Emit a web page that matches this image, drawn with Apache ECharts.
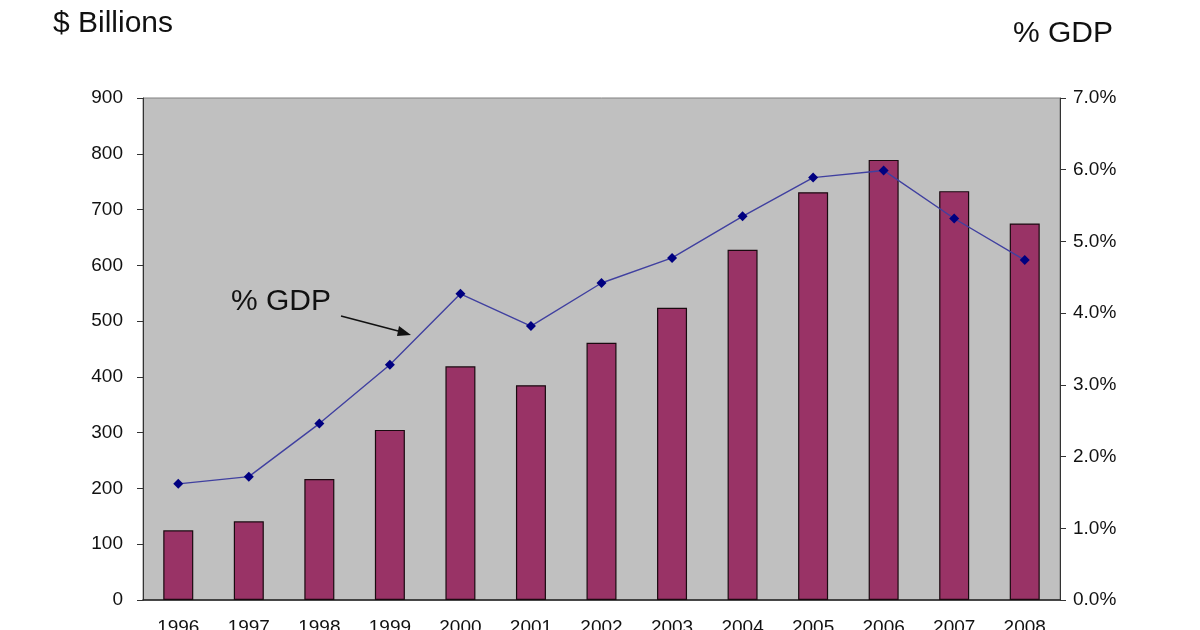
<!DOCTYPE html>
<html>
<head>
<meta charset="utf-8">
<script src="https://cdn.jsdelivr.net/npm/echarts@6/dist/echarts.min.js"></script>
<style>
  html, body { margin: 0; padding: 0; background: #fff; }
  #chart { width: 1200px; height: 630px; }
</style>
</head>
<body>
<div id="chart"></div>
<script>
const years = ["1996", "1997", "1998", "1999", "2000", "2001", "2002", "2003", "2004", "2005", "2006", "2007", "2008"];
const billions = [125, 141, 217, 305, 419, 385, 461, 524, 628, 731, 789, 733, 675];
const pctGdp = [1.62, 1.72, 2.46, 3.28, 4.27, 3.82, 4.42, 4.77, 5.35, 5.89, 5.99, 5.32, 4.74];

const chart = echarts.init(document.getElementById("chart"));
const font = "Liberation Sans, Arial, sans-serif";

const option = {
  animation: false,
  textStyle: { fontFamily: font },
  grid: {
    left: 143,
    right: 140,
    top: 98,
    bottom: 30,
    outerBoundsMode: "none",
    show: true,
    backgroundColor: "#c0c0c0",
    borderColor: "#808080",
    borderWidth: 1
  },
  graphic: [
    {
      type: "text",
      left: 53,
      top: 9,
      style: { text: "$ Billions", font: "30px " + font, fill: "#111" }
    },
    {
      type: "text",
      left: 1013,
      top: 19,
      style: { text: "% GDP", font: "30px " + font, fill: "#111" }
    },
    {
      type: "text",
      left: 231,
      top: 287,
      z: 10,
      style: { text: "% GDP", font: "30px " + font, fill: "#111" }
    },
    {
      type: "line",
      z: 10,
      shape: { x1: 341, y1: 316, x2: 402, y2: 332 },
      style: { stroke: "#111", lineWidth: 1.5 }
    },
    {
      type: "polygon",
      z: 10,
      shape: { points: [[411, 335], [399, 326], [397, 336]] },
      style: { fill: "#111" }
    }
  ],
  xAxis: {
    type: "category",
    data: years,
    axisTick: { show: false },
    axisLine: { lineStyle: { color: "#222", width: 1.5 } },
    axisLabel: { color: "#111", fontSize: 19, margin: 18 }
  },
  yAxis: [
    {
      type: "value",
      min: 0,
      max: 900,
      interval: 100,
      splitLine: { show: false },
      axisLine: { show: true, lineStyle: { color: "#333" } },
      axisTick: { show: true, length: 6, lineStyle: { color: "#333" } },
      axisLabel: { color: "#111", fontSize: 19, margin: 20 }
    },
    {
      type: "value",
      min: 0,
      max: 7,
      interval: 1,
      splitLine: { show: false },
      axisLine: { show: true, lineStyle: { color: "#333" } },
      axisTick: { show: true, length: 6, lineStyle: { color: "#333" } },
      axisLabel: {
        color: "#111",
        fontSize: 19,
        margin: 13,
        formatter: function (v) { return v.toFixed(1) + "%"; }
      }
    }
  ],
  series: [
    {
      name: "$ Billions",
      type: "bar",
      data: billions,
      barWidth: 30,
      itemStyle: { color: "#993366", borderColor: "#1a0a10", borderWidth: 1.2 }
    },
    {
      name: "% GDP",
      type: "line",
      yAxisIndex: 1,
      data: pctGdp,
      symbol: "diamond",
      symbolSize: 10,
      lineStyle: { color: "#4040a0", width: 1.4 },
      itemStyle: { color: "#000080" }
    }
  ]
};

chart.setOption(option);
</script>
</body>
</html>
